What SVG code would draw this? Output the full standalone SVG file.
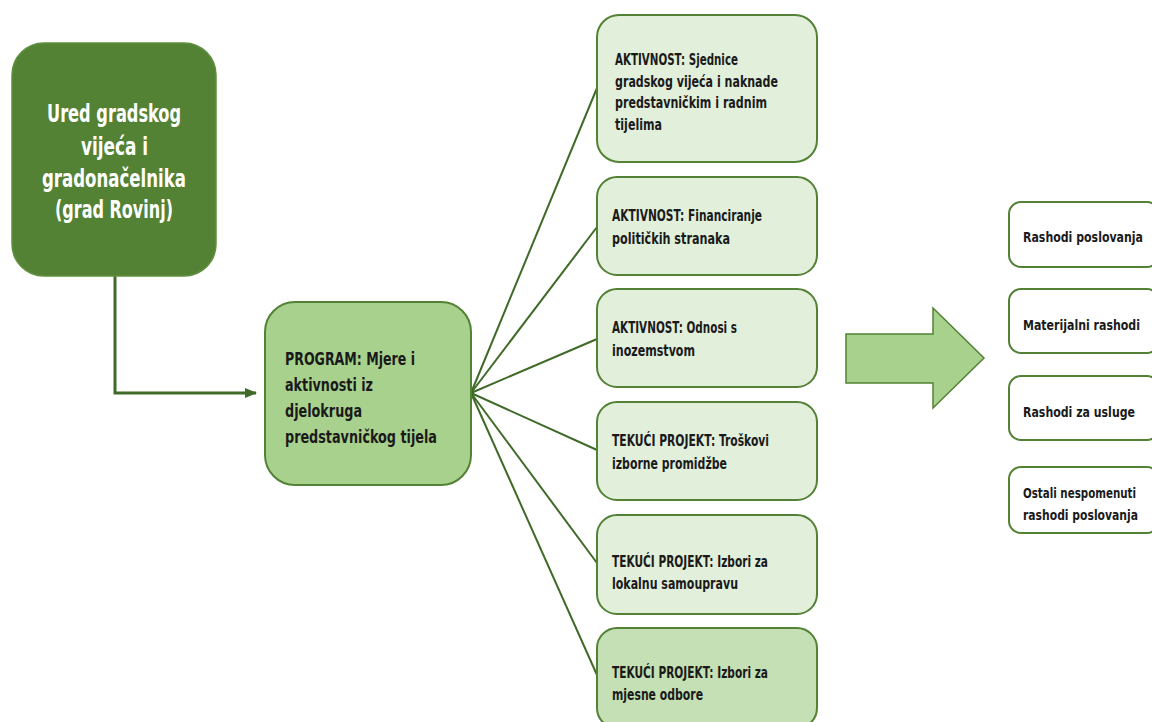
<svg xmlns="http://www.w3.org/2000/svg" width="1152" height="722" viewBox="0 0 1152 722">
<defs>
<style>
text{font-family:"DejaVu Sans Condensed","Liberation Sans Narrow","Liberation Sans",sans-serif;font-weight:bold;font-stretch:condensed;}
.t1{font-size:25px;fill:#ffffff;}
.t2{font-size:18px;fill:#1a1a1a;}
.t3{font-size:15px;fill:#1a1a1a;}
.t4{font-size:14.5px;fill:#1a1a1a;}
.act{fill:#E2EFDA;stroke:#538135;stroke-width:2;}
.out{fill:#ffffff;stroke:#538135;stroke-width:2;}
.fan{stroke:#3F6A28;stroke-width:2;fill:none;}
</style>
<marker id="ah" markerWidth="12" markerHeight="12" refX="11" refY="6" orient="auto" markerUnits="userSpaceOnUse" viewBox="0 0 12 12">
<path d="M0,1 L12,6 L0,11 Z" fill="#3F6A28"/>
</marker>
</defs>
<rect width="1152" height="722" fill="#ffffff"/>
<g id="connectors">
<path d="M115,276 L115,393 L256,393" stroke="#3F6A28" stroke-width="3" fill="none" marker-end="url(#ah)"/>
<line class="fan" x1="471" y1="393" x2="597" y2="88"/>
<line class="fan" x1="471" y1="393" x2="597" y2="227"/>
<line class="fan" x1="471" y1="393" x2="597" y2="339"/>
<line class="fan" x1="471" y1="393" x2="597" y2="450"/>
<line class="fan" x1="471" y1="393" x2="597" y2="563"/>
<line class="fan" x1="471" y1="393" x2="597" y2="675"/>
</g>
<g id="ured">
<rect x="12" y="43" width="204" height="233" rx="32" fill="#548235" stroke="#5E8F3E" stroke-width="1.5"/>
<text class="t1" x="47" y="122" textLength="134" lengthAdjust="spacingAndGlyphs">Ured gradskog</text>
<text class="t1" x="81" y="155" textLength="67" lengthAdjust="spacingAndGlyphs">vijeća i</text>
<text class="t1" x="42" y="187" textLength="144" lengthAdjust="spacingAndGlyphs">gradonačelnika</text>
<text class="t1" x="55" y="218" textLength="118" lengthAdjust="spacingAndGlyphs">(grad Rovinj)</text>
</g>
<g id="program">
<rect x="265" y="302" width="206" height="183" rx="30" fill="#A9D18E" stroke="#538135" stroke-width="2"/>
<text class="t2" x="285" y="365" textLength="130" lengthAdjust="spacingAndGlyphs">PROGRAM: Mjere i</text>
<text class="t2" x="285" y="391" textLength="88" lengthAdjust="spacingAndGlyphs">aktivnosti iz</text>
<text class="t2" x="285" y="417" textLength="77" lengthAdjust="spacingAndGlyphs">djelokruga</text>
<text class="t2" x="285" y="443" textLength="152" lengthAdjust="spacingAndGlyphs">predstavničkog tijela</text>
</g>
<g id="akt1">
<rect class="act" x="597" y="15" width="220" height="147" rx="22"/>
<text class="t3" x="615" y="65" textLength="123" lengthAdjust="spacingAndGlyphs">AKTIVNOST: Sjednice</text>
<text class="t3" x="615" y="87" textLength="163" lengthAdjust="spacingAndGlyphs">gradskog vijeća i naknade</text>
<text class="t3" x="615" y="108" textLength="152" lengthAdjust="spacingAndGlyphs">predstavničkim i radnim</text>
<text class="t3" x="615" y="130" textLength="47" lengthAdjust="spacingAndGlyphs">tijelima</text>
</g>
<g id="akt2">
<rect class="act" x="597" y="177" width="220" height="98" rx="20"/>
<text class="t3" x="612" y="221" textLength="150" lengthAdjust="spacingAndGlyphs">AKTIVNOST: Financiranje</text>
<text class="t3" x="612" y="244" textLength="118" lengthAdjust="spacingAndGlyphs">političkih stranaka</text>
</g>
<g id="akt3">
<rect class="act" x="597" y="289" width="220" height="98" rx="20"/>
<text class="t3" x="612" y="333" textLength="125" lengthAdjust="spacingAndGlyphs">AKTIVNOST: Odnosi s</text>
<text class="t3" x="612" y="356" textLength="83" lengthAdjust="spacingAndGlyphs">inozemstvom</text>
</g>
<g id="proj1">
<rect class="act" x="597" y="402" width="220" height="98" rx="20"/>
<text class="t3" x="612" y="446" textLength="157" lengthAdjust="spacingAndGlyphs">TEKUĆI PROJEKT: Troškovi</text>
<text class="t3" x="612" y="469" textLength="115" lengthAdjust="spacingAndGlyphs">izborne promidžbe</text>
</g>
<g id="proj2">
<rect class="act" x="597" y="515" width="220" height="99" rx="20"/>
<text class="t3" x="612" y="567" textLength="156" lengthAdjust="spacingAndGlyphs">TEKUĆI PROJEKT: Izbori za</text>
<text class="t3" x="612" y="589" textLength="126" lengthAdjust="spacingAndGlyphs">lokalnu samoupravu</text>
</g>
<g id="proj3">
<rect x="597" y="628" width="220" height="100" rx="20" fill="#C5E0B4" stroke="#538135" stroke-width="2"/>
<text class="t3" x="612" y="678" textLength="156" lengthAdjust="spacingAndGlyphs">TEKUĆI PROJEKT: Izbori za</text>
<text class="t3" x="612" y="700" textLength="91" lengthAdjust="spacingAndGlyphs">mjesne odbore</text>
</g>
<g id="bigarrow">
<path d="M846,334 L933,334 L933,308 L984,358 L933,408 L933,383 L846,383 Z" fill="#A9D18E" stroke="#538135" stroke-width="1.5"/>
</g>
<g id="r1">
<rect class="out" x="1009" y="202" width="150" height="65" rx="12"/>
<text class="t4" x="1023" y="242" textLength="120" lengthAdjust="spacingAndGlyphs">Rashodi poslovanja</text>
</g>
<g id="r2">
<rect class="out" x="1009" y="289" width="150" height="64" rx="12"/>
<text class="t4" x="1023" y="330" textLength="117" lengthAdjust="spacingAndGlyphs">Materijalni rashodi</text>
</g>
<g id="r3">
<rect class="out" x="1009" y="376" width="150" height="64" rx="12"/>
<text class="t4" x="1023" y="417" textLength="112" lengthAdjust="spacingAndGlyphs">Rashodi za usluge</text>
</g>
<g id="r4">
<rect class="out" x="1009" y="467" width="150" height="66" rx="12"/>
<text class="t4" x="1023" y="498" textLength="113" lengthAdjust="spacingAndGlyphs">Ostali nespomenuti</text>
<text class="t4" x="1023" y="520" textLength="115" lengthAdjust="spacingAndGlyphs">rashodi poslovanja</text>
</g>
</svg>
